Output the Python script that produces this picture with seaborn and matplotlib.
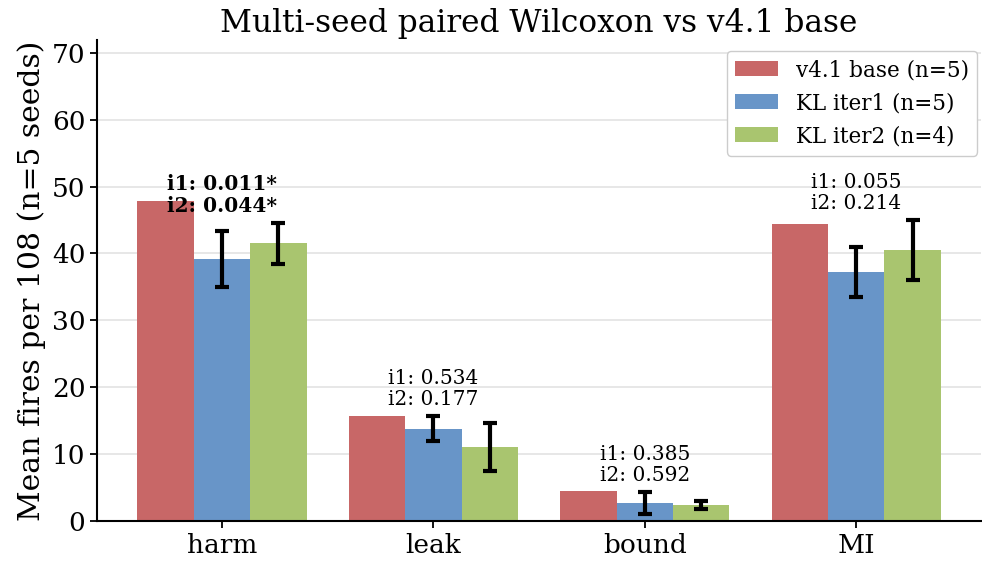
import numpy as np
import pandas as pd
import matplotlib
matplotlib.use("Agg")
import matplotlib.pyplot as plt
import seaborn as sns

# Data
categories = ["harm", "leak", "bound", "MI"]
series_names = ["v4.1 base (n=5)", "KL iter1 (n=5)", "KL iter2 (n=4)"]
base_mean = [47.9, 15.7, 4.5, 44.4]
iter1_mean = [39.2, 13.8, 2.7, 37.2]
iter1_err = [4.15, 1.9, 1.6, 3.7]
iter2_mean = [41.5, 11.1, 2.4, 40.5]
iter2_err = [3.1, 3.6, 0.6, 4.5]
p_iter1 = [0.011, 0.534, 0.385, 0.055]
p_iter2 = [0.044, 0.177, 0.592, 0.214]

colors = ["#c86767", "#6895c8", "#a9c56f"]

sns.set_style("ticks")
plt.rcParams["font.family"] = ["DejaVu Serif"]
plt.rcParams.update({"text.color": "black", "axes.labelcolor": "black",
                     "xtick.color": "black", "ytick.color": "black",
                     "axes.edgecolor": "black"})

df = pd.DataFrame({
    "category": categories * 3,
    "series": [series_names[0]] * 4 + [series_names[1]] * 4 + [series_names[2]] * 4,
    "value": base_mean + iter1_mean + iter2_mean,
})

fig, ax = plt.subplots(figsize=(9.82, 5.65), dpi=100)
fig.subplots_adjust(left=0.099, right=0.999, top=0.929, bottom=0.078)

sns.barplot(data=df, x="category", y="value", hue="series", order=categories,
            hue_order=series_names, palette=colors, errorbar=None,
            width=0.8, saturation=1, linewidth=0, ax=ax)

# error bars on the two KL iterations
x = np.arange(len(categories))
bw = 0.8 / 3
ax.errorbar(x, iter1_mean, yerr=iter1_err, fmt="none", ecolor="black",
            elinewidth=3, capsize=5, capthick=3, zorder=5)
ax.errorbar(x + bw, iter2_mean, yerr=iter2_err, fmt="none", ecolor="black",
            elinewidth=3, capsize=5, capthick=3, zorder=5)

# Wilcoxon p-value annotations
for i in range(len(categories)):
    top = max(iter1_mean[i] + iter1_err[i], iter2_mean[i] + iter2_err[i])
    s1 = f"{p_iter1[i]:.3f}" + ("*" if p_iter1[i] < 0.05 else "")
    s2 = f"{p_iter2[i]:.3f}" + ("*" if p_iter2[i] < 0.05 else "")
    sig = p_iter1[i] < 0.05 or p_iter2[i] < 0.05
    ax.text(x[i], top + 1.0, f"i1: {s1}\ni2: {s2}", ha="center", va="bottom",
            fontsize=14.5, fontweight="bold" if sig else "normal", linespacing=1.15,
            zorder=6)

ax.set_ylim(0, 71.9)
ax.set_yticks(range(0, 71, 10))
ax.set_title("Multi-seed paired Wilcoxon vs v4.1 base", fontsize=22.5)
ax.set_ylabel("Mean fires per 108 (n=5 seeds)", fontsize=21.5)
ax.set_xlabel("")
ax.tick_params(axis="both", labelsize=19, width=1.3, length=5)
ax.yaxis.grid(True, color="#e3e3e3", linewidth=1.2)
ax.set_axisbelow(True)
for s in ["left", "bottom"]:
    ax.spines[s].set_linewidth(1.5)
sns.despine(ax=ax)

ax.legend(loc="upper right", bbox_to_anchor=(1.008, 1.0), fontsize=15.5,
          frameon=True, framealpha=1, edgecolor="#cccccc", handlelength=2.0)

fig.savefig("out.png", dpi=100)
